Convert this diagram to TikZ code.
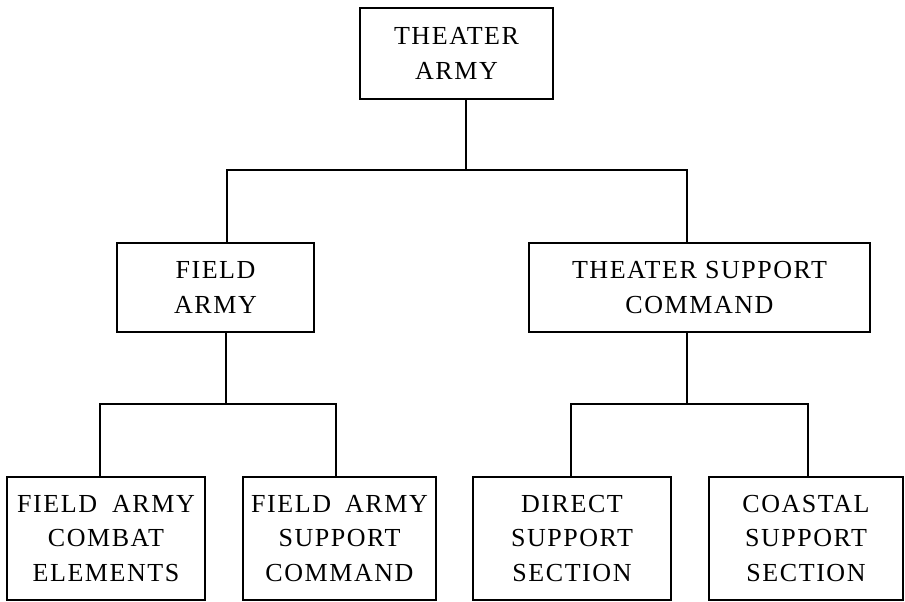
\documentclass[tikz,border=0pt]{standalone}
\usepackage{fontspec}
\newfontfamily\tfont[LetterSpace=6]{Liberation Serif}
\begin{document}
\begin{tikzpicture}[x=1pt,y=-1pt,
  box/.style={draw, line width=2.5pt, align=center, inner sep=0pt,
    font=\tfont\fontsize{26}{34.5}\selectfont},
  conn/.style={line width=2.5pt, line cap=rect}]
\useasboundingbox (0,0) rectangle (905,602);
\node[box, minimum width=193pt, minimum height=91pt] (top) at (456.5,53.5) {THEATER\\ARMY};
\node[box, minimum width=197pt, minimum height=89pt] (fa) at (215.5,287.5) {FIELD\\ARMY};
\node[box, minimum width=341pt, minimum height=89pt] (tsc) at (699.5,287.5) {THEATER SUPPORT\\COMMAND};
\node[box, minimum width=198pt, minimum height=123pt] (b1) at (106,538.5) {FIELD\hspace{7pt} ARMY\\COMBAT\\ELEMENTS};
\node[box, minimum width=193pt, minimum height=123pt] (b2) at (339.5,538.5) {FIELD\hspace{6pt} ARMY\\SUPPORT\\COMMAND};
\node[box, minimum width=198pt, minimum height=123pt] (b3) at (572,538.5) {DIRECT\\SUPPORT\\SECTION};
\node[box, minimum width=194pt, minimum height=123pt] (b4) at (806,538.5) {COASTAL\\SUPPORT\\SECTION};
\coordinate (j0) at (466,170);
\coordinate (l1) at (227,170);
\coordinate (r1) at (687,170);
\coordinate (m2) at (226,404);
\coordinate (l2) at (100,404);
\coordinate (r2) at (336,404);
\coordinate (m3) at (687,404);
\coordinate (l3) at (571,404);
\coordinate (r3) at (808,404);
\draw[conn] (top.south -| j0) -- (j0);
\draw[conn] (fa.north -| l1) -- (l1) -- (r1) -- (tsc.north -| r1);
\draw[conn] (fa.south -| m2) -- (m2);
\draw[conn] (b1.north -| l2) -- (l2) -- (r2) -- (b2.north -| r2);
\draw[conn] (tsc.south -| m3) -- (m3);
\draw[conn] (b3.north -| l3) -- (l3) -- (r3) -- (b4.north -| r3);
\end{tikzpicture}
\end{document}
